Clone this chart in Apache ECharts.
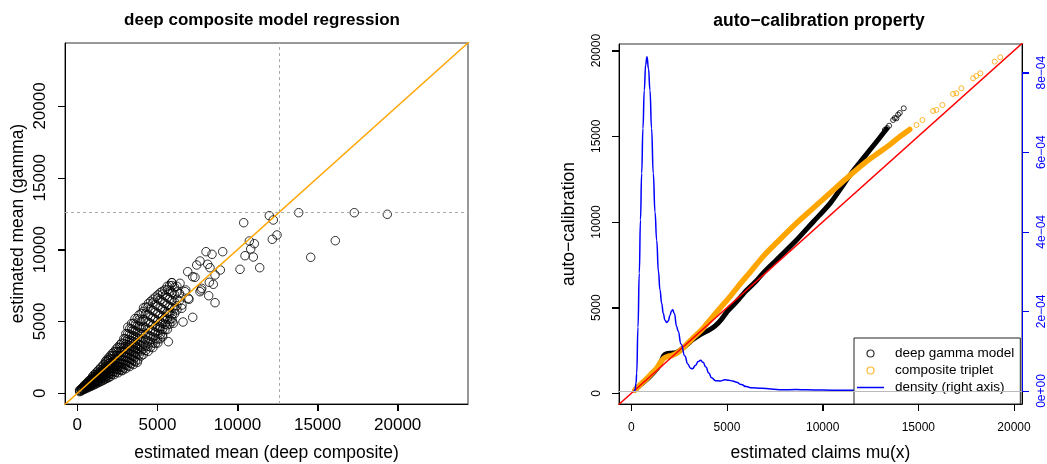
<!DOCTYPE html>
<html><head><meta charset="utf-8">
<script src="https://cdn.jsdelivr.net/npm/echarts@6/dist/echarts.min.js"></script>
<style>html,body{margin:0;padding:0;background:#fff}#c{width:1047px;height:464px}</style>
</head><body><div id="c"></div>
<script>
// ---------- data ----------
const leftTitle = 'deep composite model regression';
const rightTitle = 'auto\u2212calibration property';
const leftXName = 'estimated mean (deep composite)';
const leftYName = 'estimated mean (gamma)';
const rightXName = 'estimated claims mu(x)';
const rightYName = 'auto\u2212calibration';
const leftTicks = [0, 5000, 10000, 15000, 20000];
const rightTicks = [0, 5000, 10000, 15000, 20000];
const densTicks = [0, 0.0002, 0.0004, 0.0006, 0.0008];
const densTickLabels = ['0e+00', '2e\u221204', '4e\u221204', '6e\u221204', '8e\u221204'];
const refLevel = 12600;
const diagLine = [[-2000, -2000], [26000, 26000]];

// left panel: estimated mean (deep composite) vs estimated mean (gamma) -- dense cloud, read column by column
const cloudPoints = [
[150,115],[160,170],[140,220],
[250,170],[240,230],[265,290],[255,330],
[350,240],[340,300],[360,370],[355,440],
[450,290],[460,360],[445,430],[455,500],[450,570],
[550,340],[540,420],[560,500],[550,570],[545,650],
[650,390],[660,470],[645,560],[655,640],[650,720],[660,800],
[750,440],[740,530],[760,620],[750,710],[745,800],[755,900],
[850,490],[860,590],[845,680],[855,780],[850,880],[860,990],
[950,540],[940,650],[960,750],[950,850],[945,960],[955,1070],[950,1170],
[1050,600],[1060,710],[1045,820],[1055,930],[1050,1040],[1060,1160],[1045,1290],
[1150,650],[1140,770],[1160,890],[1150,1000],[1145,1120],[1155,1250],[1150,1400],
[1250,710],[1260,830],[1245,960],[1255,1080],[1250,1200],[1260,1340],[1245,1520],
[1350,760],[1340,890],[1360,1030],[1350,1150],[1345,1290],[1355,1440],[1350,1640],
[1450,820],[1460,960],[1445,1100],[1455,1230],[1450,1380],[1460,1540],[1445,1760],
[1550,870],[1540,1020],[1560,1170],[1550,1310],[1545,1470],[1555,1650],[1550,1880],
[1650,930],[1660,1080],[1645,1240],[1655,1400],[1650,1560],[1660,1750],[1645,2000],
[1750,990],[1740,1150],[1760,1310],[1750,1480],[1745,1650],[1755,1850],[1750,2100],[1760,2230],
[1850,1040],[1860,1210],[1845,1390],[1855,1560],[1850,1740],[1860,1950],[1845,2200],[1855,2350],
[1950,1100],[1940,1280],[1960,1460],[1950,1650],[1945,1830],[1955,2050],[1950,2300],[1960,2470],
[2060,1160],[2050,1350],[2070,1540],[2060,1740],[2055,1930],[2065,2150],[2060,2400],[2050,2600],
[2180,1330],[2190,1520],[2175,1720],[2185,1930],[2180,2140],[2190,2380],[2175,2640],[2185,2780],
[2300,1300],[2290,1500],[2310,1700],[2300,1920],[2295,2140],[2305,2380],[2300,2650],[2290,2880],
[2420,1470],[2430,1690],[2415,1900],[2425,2130],[2420,2370],[2430,2640],[2415,2920],[2425,3080],
[2540,1430],[2530,1650],[2550,1880],[2540,2120],[2535,2360],[2545,2620],[2540,2900],[2530,3200],
[2660,1610],[2670,1840],[2655,2090],[2665,2340],[2660,2600],[2670,2890],[2655,3200],[2665,3380],
[2780,1570],[2770,1810],[2790,2050],[2780,2320],[2775,2580],[2785,2860],[2780,3170],[2770,3500],
[2900,1760],[2910,2010],[2895,2280],[2905,2550],[2900,2830],[2910,3140],[2895,3470],[2905,3800],
[3020,1710],[3010,1970],[3030,2230],[3020,2520],[3015,2800],[3025,3100],[3020,3430],[3010,3800],[3030,4150],
[3140,1910],[3150,2180],[3135,2470],[3145,2760],[3140,3060],[3150,3390],[3135,3750],[3145,4150],[3150,4600],
[3260,1860],[3250,2130],[3270,2410],[3260,2720],[3255,3020],[3265,3340],[3260,3700],[3250,4100],[3270,4500],
[3380,2070],[3390,2350],[3375,2660],[3385,2970],[3380,3300],[3390,3650],[3375,4040],[3385,4480],[3380,4850],
[3500,2000],[3490,2290],[3510,2590],[3500,2920],[3495,3240],[3505,3590],[3500,3980],[3490,4400],[3510,4870],
[3620,2220],[3630,2520],[3615,2850],[3625,3180],[3620,3530],[3630,3910],[3615,4330],[3625,4800],[3600,5200],
[3740,2150],[3770,2320],[3735,2770],[3745,3120],[3740,3460],[3750,3840],[3735,4250],[3745,4700],[3740,5200],
[3860,2680],[3850,3040],[3870,3390],[3860,3760],[3855,4170],[3865,4620],[3860,5110],[3850,5450],
[3980,2600],[3990,2950],[3975,3320],[3985,3680],[3980,4080],[3990,4520],[3975,5000],[3985,5550],
[4120,2700],[4110,3050],[4130,3420],[4120,3800],[4115,4200],[4125,4650],[4120,5150],[4110,5700],[4130,5950],
[4270,2980],[4280,3340],[4265,3720],[4275,4120],[4270,4560],[4280,5040],[4265,5570],[4275,6000],
[4420,2920],[4410,3260],[4430,3650],[4420,4050],[4415,4470],[4425,4940],[4420,5450],[4410,6000],[4430,6250],
[4570,3220],[4580,3570],[4565,3970],[4575,4390],[4570,4850],[4580,5340],[4565,5870],[4575,6400],
[4720,3180],[4710,3500],[4730,3890],[4720,4310],[4715,4750],[4725,5240],[4720,5760],[4710,6300],[4730,6550],
[4870,3470],[4880,3820],[4865,4230],[4875,4660],[4870,5140],[4880,5650],[4865,6180],[4875,6700],
[5020,3500],[5010,3770],[5030,4150],[5020,4580],[5015,5030],[5025,5540],[5020,6080],[5010,6600],[5030,6850],
[5170,3800],[5180,4100],[5165,4500],[5175,4950],[5170,5430],[5180,5950],[5165,6490],[5175,7000],
[5320,4080],[5310,4440],[5330,4860],[5320,5320],[5315,5840],[5325,6380],[5320,6900],[5310,7100],
[5470,4420],[5480,4800],[5465,5240],[5475,5730],[5470,6260],[5480,6790],[5465,7200],
[5620,4450],[5610,4760],[5630,5160],[5620,5620],[5615,6140],[5625,6680],[5620,7200],[5610,7450],
[5770,4820],[5780,5130],[5765,5550],[5775,6030],[5770,6560],[5780,7090],[5765,7500],
[5920,5000],[5910,5200],[5930,5500],[5920,5950],[5915,6450],[5925,6980],[5920,7500],[5910,7700],
[6070,5550],[6080,5900],[6065,6360],[6075,6860],[6070,7380],
[6220,5800],[6210,6100],[6230,6550],[6220,7050],[6215,7450],
[6370,6450],[6380,6950]
];
const outlierPoints = [
[11985,12362],[12235,12062],[13820,12571],[17291,12571],[19351,12459],[10387,11874],[12172,10719],[12466,11018],
[16105,10622],[14569,9466],[11049,10413],[10737,10600],[10824,10044],[10986,9487],[10468,9577],[10156,8630],[11386,8742],
[9076,9856],[8034,9856],[8408,9675],[7659,9208],[7453,8930],[8140,8979],[8283,8742],[8926,8582],[6891,8464],[7203,8116],
[7347,8074],[8596,8234],[8240,7726],[8489,7587],[7722,7190],[7659,7072],[8202,6794],[8596,6306],[6973,6543],[6536,6146],
[7203,5290],[6598,4963],[6767,7190],[6411,7656],[5893,7698],[5680,3592],[5331,3940],[5144,4636],[6723,7072],[6929,6612],
[6517,5916],[7765,7308],[5680,5568],[5993,4872],[5368,5102],[2834,1622]
];

// right panel: auto-calibration curves
const gammaBand = [[193,193],[500,520],[900,900],[1200,1250],[1450,1600],[1600,1950],[1700,2200],[1850,2320],[2100,2340],[2350,2380],
[2600,2560],[2900,2830],[3200,3120],[3500,3350],[3800,3550],[4100,3720],[4400,3950],[4700,4300],[5000,4750],[5300,5100],[5700,5600],
[6000,5980],[6500,6520],[6900,7030],[7600,7800],[8600,8900],[9500,10000],[10400,11100],[11250,12450],[11600,12990],[12000,13550],
[12465,14200],[12900,14800],[13337,15426]];
const gammaTail = [[13248,15368],[13368,15485],[13473,15618],[13681,15953],[13770,16068],[13855,16051],[13943,16262],[14031,16360],[14238,16634]];
const tripletBand = [[193,193],[450,480],[800,850],[1100,1200],[1350,1500],[1550,1850],[1700,2040],[1900,2150],[2150,2220],[2450,2400],
[2800,2750],[3200,3200],[3700,3730],[4200,4400],[4700,5050],[5200,5700],[5700,6400],[6200,7050],[6900,8000],[7600,8800],[8600,9900],
[9500,10800],[10400,11700],[11200,12500],[12200,13450],[13000,14100],[13500,14500],[14000,14950],[14550,15400]];
const tripletTail = [[14900,15661],[15213,15953],[15770,16479],[15944,16537],[16257,16829],[16815,17471],[16988,17510],[17250,17802],
[17859,18385],[18033,18521],[18242,18677],[18990,19358],[19286,19611]];
const densityCurve = [[150,0],[193,0.000002],[250,0.00002],[282,0.000044],[350,0.00016],[418,0.000296],[480,0.00043],[543,0.000547],
[610,0.00066],[679,0.000756],[750,0.00082],[820,0.00084],[900,0.00081],[976,0.000756],[1060,0.00066],[1149,0.000547],[1240,0.00045],
[1326,0.000379],[1420,0.0003],[1499,0.000254],[1590,0.00022],[1671,0.000195],[1760,0.000178],[1848,0.000172],[1934,0.000176],
[2020,0.00019],[2100,0.000201],[2162,0.000204],[2250,0.000195],[2371,0.000162],[2450,0.00015],[2600,0.000118],[2800,0.000088],
[2950,0.000068],[3100,0.000057],[3200,0.000056],[3350,0.000064],[3500,0.000074],[3620,0.000077],[3750,0.000072],[3900,0.00006],
[4050,0.000045],[4200,0.000033],[4400,0.000026],[4650,0.000025],[4900,0.000028],[5100,0.000027],[5300,0.000025],[5500,0.000022],
[5750,0.000016],[6000,0.000011],[6300,0.000008],[6800,0.000007],[7300,0.000005],[7900,0.000003],[8600,0.0000035],[9200,0.000003],
[10000,0.0000022],[11000,0.000002],[12000,0.0000015],[13000,0.000001],[14000,0.000001],[15000,0.0000007],[16000,0.0000005],
[17000,0.0000004],[18000,0.0000003],[19000,0.0000002],[19600,0.0000001]];

// ---------- chart ----------
const FONT = 'Liberation Sans, Arial, Helvetica, sans-serif';
const chart = echarts.init(document.getElementById('c'));

function valAxis(o) {
  const ax = {
    type: 'value', splitLine: {show: false},
    axisLine: {show: true, onZero: false, lineStyle: {color: '#000'}},
    axisTick: {show: true, length: 7, customValues: o.ticks, lineStyle: {color: o.tc || '#000', width: 1}},
    axisLabel: {color: o.lc || '#000', fontSize: o.fs, fontFamily: FONT, margin: o.margin, rotate: o.rot || 0,
      customValues: o.ticks, formatter: o.fmt || function (v) { return String(v); }}
  };
  return Object.assign(ax, o.extra);
}

const gridL = {left: 65, top: 43, width: 403, height: 361};
const gridR = {left: 619, top: 44, width: 403, height: 360};

const option = {
  animation: false,
  backgroundColor: '#fff',
  title: [
    {text: leftTitle, left: 257, top: 7, textAlign: 'center', textStyle: {fontSize: 17, fontWeight: 'bold', fontFamily: FONT, color: '#000'}},
    {text: rightTitle, left: 814, top: 7, textAlign: 'center', textStyle: {fontSize: 17.5, fontWeight: 'bold', fontFamily: FONT, color: '#000'}}
  ],
  grid: [
    Object.assign({show: true, borderColor: '#333', outerBoundsMode: 'none'}, gridL),
    Object.assign({show: true, borderColor: '#333', outerBoundsMode: 'none'}, gridR)
  ],
  xAxis: [
    valAxis({ticks: leftTicks, fs: 17, margin: 13, extra: {gridIndex: 0, min: -770, max: 24390}}),
    valAxis({ticks: rightTicks, fs: 12, margin: 18, extra: {gridIndex: 1, min: -642, max: 20418}})
  ],
  yAxis: [
    valAxis({ticks: leftTicks, fs: 17, margin: 16, rot: 90, extra: {gridIndex: 0, min: -745, max: 24383}}),
    valAxis({ticks: rightTicks, fs: 12, margin: 16, rot: 90, extra: {gridIndex: 1, min: -624, max: 20387}}),
    valAxis({ticks: densTicks, fs: 12, margin: 14, rot: 90, tc: '#0000FF', lc: '#0000FF',
      fmt: function (v) { for (let i = 0; i < densTicks.length; i++) if (Math.abs(v - densTicks[i]) < 1e-9) return densTickLabels[i]; return ''; },
      extra: {gridIndex: 1, position: 'right', min: -0.0000327, max: 0.000872}})
  ],
  legend: {
    orient: 'vertical', left: 854, top: 338,
    padding: [7, 6, 8, 3], itemGap: 0, itemWidth: 27, itemHeight: 7,
    backgroundColor: '#fff', borderColor: '#222', borderWidth: 1, borderRadius: 0,
    textStyle: {fontSize: 13.5, fontFamily: FONT, color: '#000', lineHeight: 17, padding: [0, 0, 0, 6]},
    data: [
      {name: 'deep gamma model', icon: 'circle', itemStyle: {color: 'rgba(0,0,0,0)', borderColor: '#000', borderWidth: 1.2}},
      {name: 'composite triplet', icon: 'circle', itemStyle: {color: 'rgba(0,0,0,0)', borderColor: '#FFA500', borderWidth: 1.2}},
      {name: 'density (right axis)', icon: 'path://M0,0H27V1.5H0Z', itemStyle: {color: '#0000FF', borderWidth: 0}}
    ]
  },
  series: [
    {name: 'cloud', type: 'scatter', xAxisIndex: 0, yAxisIndex: 0, data: cloudPoints.concat(outlierPoints),
      symbol: 'circle', symbolSize: 8.5, itemStyle: {color: 'rgba(0,0,0,0)', borderColor: '#000', borderWidth: 1},
      markLine: {silent: true, symbol: 'none', label: {show: false}, lineStyle: {color: '#aaa', type: [3, 3], width: 1},
        data: [{xAxis: refLevel}, {yAxis: refLevel}]}},
    {name: 'diag left', type: 'line', xAxisIndex: 0, yAxisIndex: 0, data: diagLine, showSymbol: false, symbol: 'none',
      lineStyle: {color: '#FFA500', width: 1.5}},
    {name: 'gamma band', type: 'line', xAxisIndex: 1, yAxisIndex: 1, data: gammaBand, symbol: 'none', smooth: 0.3,
      lineStyle: {color: '#000', width: 5, cap: 'round', join: 'round'}},
    {name: 'deep gamma model', type: 'scatter', xAxisIndex: 1, yAxisIndex: 1, data: gammaTail, symbol: 'circle', symbolSize: 5,
      itemStyle: {color: 'rgba(0,0,0,0)', borderColor: '#000', borderWidth: 1}},
    {name: 'triplet band', type: 'line', xAxisIndex: 1, yAxisIndex: 1, data: tripletBand, symbol: 'none', smooth: 0.3,
      lineStyle: {color: '#FFA500', width: 5.5, cap: 'round', join: 'round'}},
    {name: 'composite triplet', type: 'scatter', xAxisIndex: 1, yAxisIndex: 1, data: tripletTail, symbol: 'circle', symbolSize: 5,
      itemStyle: {color: 'rgba(0,0,0,0)', borderColor: '#FFA500', borderWidth: 1}},
    {name: 'diag right', type: 'line', xAxisIndex: 1, yAxisIndex: 1, data: diagLine, symbol: 'none',
      lineStyle: {color: '#FF0000', width: 1.5}},
    {name: 'density (right axis)', type: 'line', xAxisIndex: 1, yAxisIndex: 2, data: densityCurve, symbol: 'none', showSymbol: false,
      smooth: true, smoothMonotone: 'x', itemStyle: {color: '#0000FF'}, lineStyle: {color: '#0000FF', width: 1.5},
      markLine: {silent: true, symbol: 'none', label: {show: false},
        data: [
          {yAxis: 0, lineStyle: {color: '#bbb', width: 1, type: 'solid'}},
          [{coord: [20418, densTicks[0]], lineStyle: {color: '#0000FF', width: 1, type: 'solid'}}, {coord: [20418, densTicks[densTicks.length - 1]]}]
        ]}}
  ]
};
chart.setOption(option);

// axis titles and tick marks (tick positions come from the library's own axis scales)
(function decorate() {
  const TL = 7, els = [];
  function pt(xi, yi, xv, yv) { return chart.convertToPixel({xAxisIndex: xi, yAxisIndex: yi}, [xv, yv]); }
  function xTicks(xi, yi, ticks, color) {
    const yMin = option.yAxis[yi].min;
    ticks.forEach(function (t) {
      const p = pt(xi, yi, t, yMin);
      if (!p || isNaN(p[0]) || isNaN(p[1])) return;
      els.push({type: 'rect', silent: true, z: 100, shape: {x: Math.round(p[0]), y: Math.round(p[1]), width: 1, height: TL}, style: {fill: color}});
    });
  }
  function yTicks(yi, xi, useMax, ticks, color) {
    const xv = useMax ? option.xAxis[xi].max : option.xAxis[xi].min;
    ticks.forEach(function (t) {
      const p = pt(xi, yi, xv, t);
      if (!p || isNaN(p[0]) || isNaN(p[1])) return;
      const x0 = useMax ? Math.round(p[0]) : Math.round(p[0]) - TL;
      els.push({type: 'rect', silent: true, z: 100, shape: {x: x0, y: Math.round(p[1]), width: TL, height: 1}, style: {fill: color}});
    });
  }
  xTicks(0, 0, leftTicks, '#000');
  xTicks(1, 1, rightTicks, '#000');
  yTicks(0, 0, false, leftTicks, '#000');
  yTicks(1, 1, false, rightTicks, '#000');
  yTicks(2, 1, true, densTicks, '#0000FF');

  function label(text, x, y, rot) {
    els.push({type: 'text', silent: true, z: 100, x: x, y: y, rotation: rot ? Math.PI / 2 : 0,
      style: {text: text, fill: '#000', fontSize: 17.5, fontFamily: FONT, font: '17.5px ' + FONT,
        align: 'center', verticalAlign: 'middle', textAlign: 'center', textVerticalAlign: 'middle'}});
  }
  label(leftXName, gridL.left + gridL.width / 2, 453, false);
  label(leftYName, 18, gridL.top + gridL.height / 2, true);
  label(rightXName, gridR.left + gridR.width / 2, 453, false);
  label(rightYName, 569, gridR.top + gridR.height / 2, true);
  chart.setOption({graphic: {elements: els}});
})();
</script></body></html>
